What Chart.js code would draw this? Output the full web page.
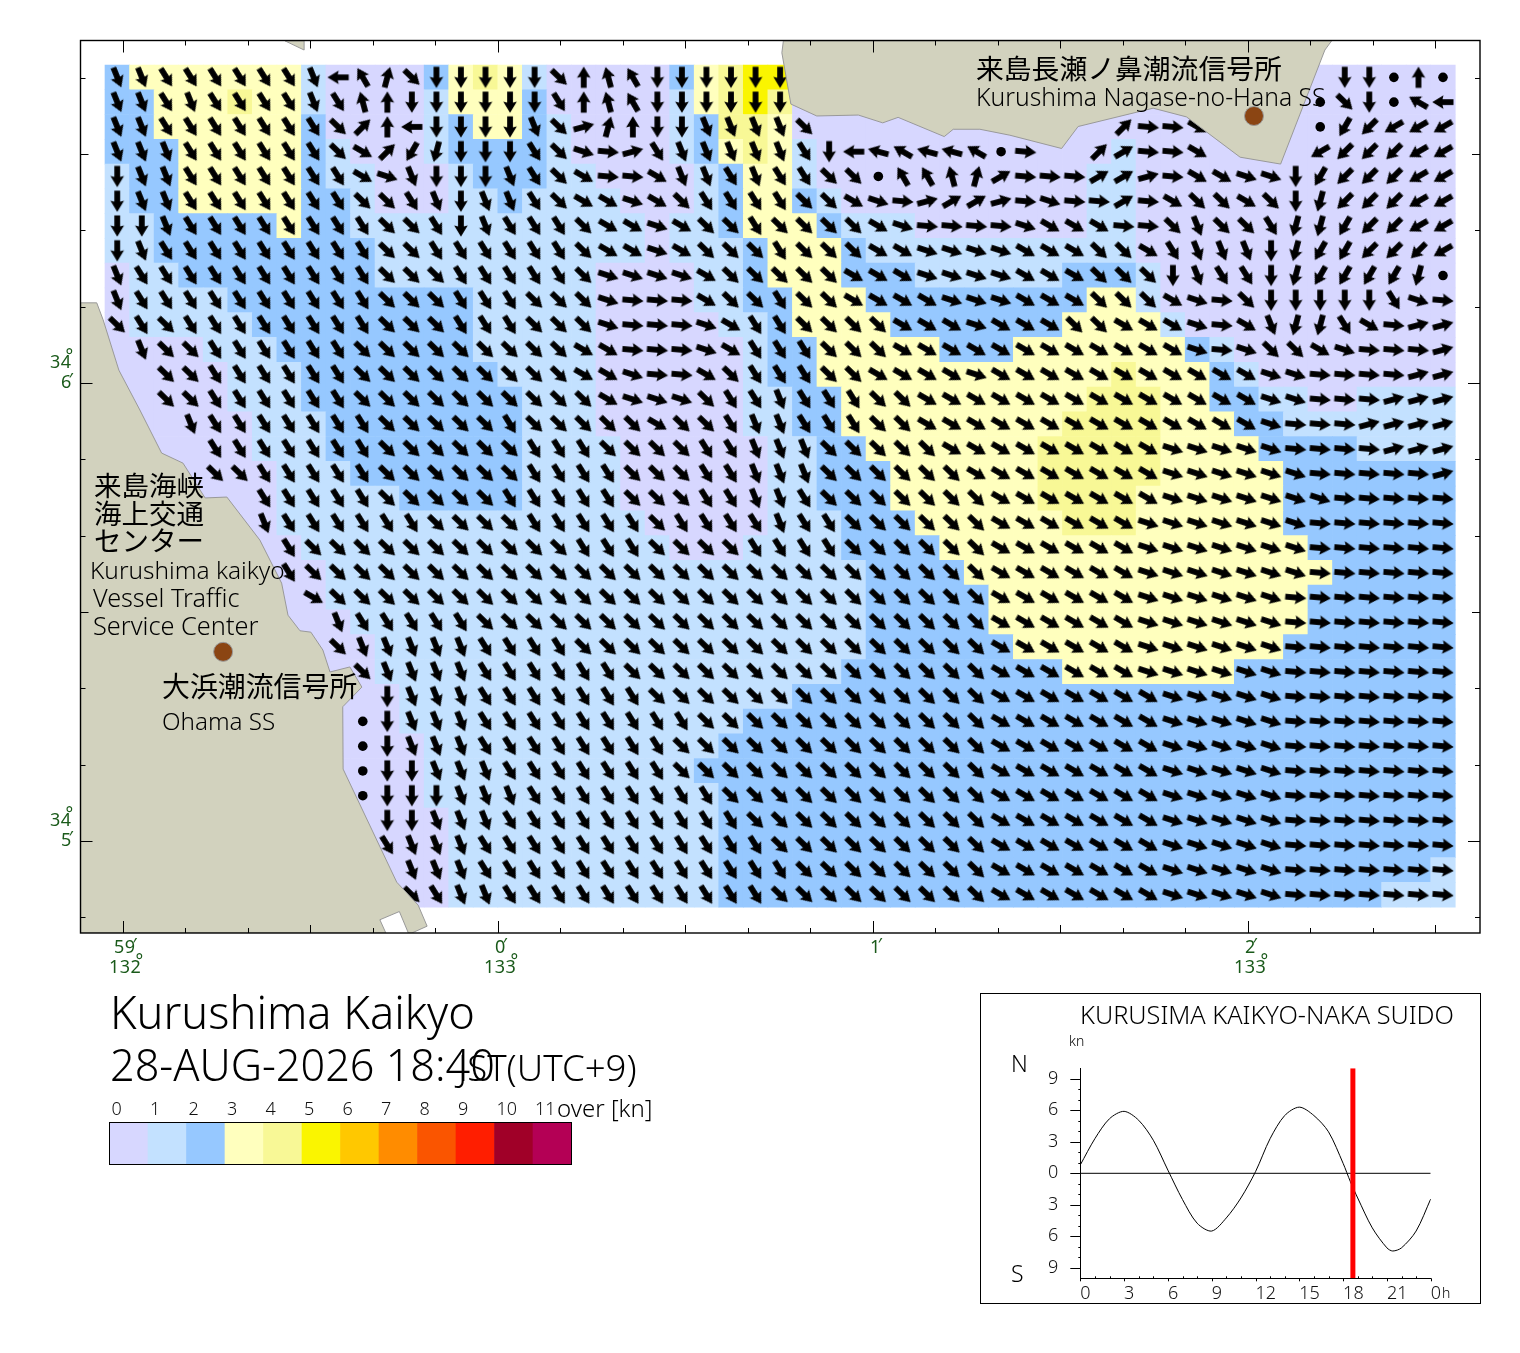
<!DOCTYPE html>
<html>
<head>
<meta charset="utf-8">
<title>Kurushima Kaikyo</title>
<script src="https://cdn.jsdelivr.net/npm/chart.js@4"></script>
<style>
html, body { margin: 0; padding: 0; background: #fff; }
body { position: relative; width: 1520px; height: 1353px; overflow: hidden; font-family: "Noto Sans", sans-serif; font-weight: 300; color: #000; }
canvas { position: absolute; display: block; }
.t { position: absolute; white-space: nowrap; line-height: 1; }
.j { font-family: "Noto Sans CJK JP", sans-serif; font-weight: 400; }
.g { color: #1a5a1a; font-size: 18px; font-weight: 400; letter-spacing: 0.5px; }
.g span { position: relative; top: -6px; margin-left: -6px; }
#tideBox { position: absolute; left: 980px; top: 993px; width: 499px; height: 309px; border: 1px solid #000; }
</style>
</head>
<body>
<canvas id="mapChart" style="left:0;top:0"></canvas>
<div id="tideBox"></div>
<canvas id="tideChart" style="left:981px;top:994px"></canvas>
<canvas id="legendChart" style="left:100px;top:1095px"></canvas>

<div class="t j" style="left:976px;top:54px;font-size:27.8px">来島長瀬ノ鼻潮流信号所</div>
<div class="t" style="left:976px;top:85px;font-size:24.7px">Kurushima Nagase-no-Hana SS</div>
<div class="t j" style="left:94px;top:471px;font-size:27.5px">来島海峡</div>
<div class="t j" style="left:94px;top:499px;font-size:27.5px">海上交通</div>
<div class="t j" style="left:94px;top:526px;font-size:27.5px">センター</div>
<div class="t" style="left:90px;top:558px;font-size:24.4px">Kurushima kaikyo</div>
<div class="t" style="left:93px;top:585px;font-size:25.2px">Vessel Traffic</div>
<div class="t" style="left:93px;top:613px;font-size:25.3px">Service Center</div>
<div class="t j" style="left:162px;top:672px;font-size:27.9px">大浜潮流信号所</div>
<div class="t" style="left:162px;top:709px;font-size:24.2px">Ohama SS</div>

<div class="t g" style="left:50px;top:352px">34<span>°</span></div>
<div class="t g" style="left:61px;top:372px">6<span style="margin-left:-3px;top:-2px">′</span></div>
<div class="t g" style="left:50px;top:810px">34<span>°</span></div>
<div class="t g" style="left:61px;top:830px">5<span style="margin-left:-3px;top:-2px">′</span></div>
<div class="t g" style="left:114px;top:937px">59<span style="margin-left:-3px;top:-2px">′</span></div>
<div class="t g" style="left:109px;top:957px">132<span>°</span></div>
<div class="t g" style="left:495px;top:937px">0<span style="margin-left:-3px;top:-2px">′</span></div>
<div class="t g" style="left:484px;top:957px">133<span>°</span></div>
<div class="t g" style="left:870px;top:937px">1<span style="margin-left:-3px;top:-2px">′</span></div>
<div class="t g" style="left:1245px;top:937px">2<span style="margin-left:-3px;top:-2px">′</span></div>
<div class="t g" style="left:1234px;top:957px">133<span>°</span></div>

<div class="t" style="left:110px;top:989px;font-size:45.2px">Kurushima Kaikyo</div>
<div class="t" style="left:110px;top:1043px;font-size:43.2px">28-AUG-2026 18:40</div>
<div class="t" style="left:458px;top:1049px;font-size:36.6px">JST(UTC+9)</div>
<div class="t" style="left:557px;top:1096px;font-size:24px">over [kn]</div>

<div class="t" style="left:1080px;top:1002px;font-size:25.3px">KURUSIMA KAIKYO-NAKA SUIDO</div>
<div class="t" style="left:1069px;top:1034px;font-size:14px">kn</div>
<div class="t" style="left:1011px;top:1052px;font-size:23px">N</div>
<div class="t" style="left:1011px;top:1262px;font-size:23px">S</div>
<div class="t" style="left:1442px;top:1286px;font-size:14px">h</div>

<script>
// current speed class per grid cell, rows north to south; each token is class + repeat count
const speedRows = [
    "2 37 1 04 2 3 4 3 1 05 2 3 4 5 5 027",
    "22 33 4 32 1 04 1 33 2 05 1 3 4 5 4 027",
    "22 36 2 04 1 2 32 2 1 04 1 2 42 3 027",
    "23 35 2 1 03 1 24 1 04 1 2 3 4 3 1 012 1 013",
    "1 22 35 2 12 03 1 23 12 04 1 2 32 1 011 12 013",
    "1 22 35 22 1 03 12 2 14 03 1 2 32 2 1 010 12 013",
    "12 25 3 22 112 0 12 2 33 2 13 07 12 013",
    "12 29 111 0 13 2 33 2 111 013",
    "0 12 28 19 04 12 2 33 23 16 23 1 012",
    "0 14 210 15 04 12 22 33 29 32 1 012",
    "0 15 29 15 05 12 2 34 27 34 1 011",
    "04 13 28 15 06 1 22 35 23 37 2 1 09",
    "05 13 28 14 06 1 22 312 4 33 2 1 08",
    "05 13 29 13 06 12 22 310 43 32 22 12 02 14",
    "06 13 28 13 06 12 22 39 44 33 22 17",
    "06 13 28 14 06 12 22 37 45 34 24 14",
    "07 13 27 14 06 12 23 36 45 35 27",
    "07 15 25 14 06 12 23 36 44 36 27",
    "07 115 05 13 23 36 43 36 27",
    "08 115 03 14 24 315 26",
    "09 122 24 315 25",
    "09 122 25 313 26",
    "010 121 25 313 26",
    "011 120 26 311 27",
    "011 119 29 37 29",
    "012 116 227",
    "012 114 229",
    "013 112 230",
    "013 111 231",
    "013 112 230",
    "014 111 230",
    "014 111 230",
    "014 111 229 1",
    "014 111 227 13"
];

// current direction per grid cell, codes looked up in directionAngles; 0=calm, .=no data
const directionRows = [
    "l2 k6 l s w b j m5 j a x w m6 .22 m2 0 a 0",
    "l2 k l k4 l k x a m6 k a x w m6 .21 0 j m 0 u s",
    "l2 k7 j d a s m4 l j f b a m2 l4 j .12 d g2 i .4 0 o p q3",
    "l3 k6 j i d o n m3 k j h g f k l5 k m s t u t2 u 0 g .2 d e g2 i .4 q p3 q2",
    "m l2 k7 i h l m3 l k j i g2 i l2 k l k2 j2 0 w2 x b e g3 e2 f g i2 h2 m o p3 q2",
    "m l2 k7 j2 k l m l2 k j i2 h i j k4 j2 i h g f e2 f g h g2 e g i j2 i j m n p3 q2",
    "m2 l k8 j2 k m l k3 j i2 h i j2 k j4 i h g4 h i3 g2 j l j2 k n2 o p2 q2",
    "m l k9 j2 k6 j i2 h i j3 k j3 i2 h4 i3 j2 i k l3 m n o2 p3 q",
    "l k10 j3 k5 j h4 i j5 i3 h4 i3 j3 m l k2 m n o4 n 0",
    "l k10 j3 k3 j3 h g3 i j2 k j2 i4 h3 i3 j3 i h g j m5 k h g",
    "j k j k8 j3 k3 j3 h g3 h i k2 j4 i3 h i3 j2 i3 h g i l n2 k i g f2",
    ". l j2 k6 j9 i2 g3 h i k3 j3 i12 h g h j2 i h g3 f",
    ".2 j2 k6 j9 i2 h g2 i j k3 j2 i4 h i11 h2 g4 f2",
    ".2 j2 k6 j10 i h3 j k2 l k3 j2 i14 h2 g3 f3",
    ".3 l k7 j5 k j5 i j2 k l2 k3 j2 i14 h g3 f4",
    ".4 k7 j6 k3 j4 k2 l3 j5 i9 h5 g4 f3",
    ".4 j2 k5 j6 k4 j3 k2 l3 j6 i8 h6 g5 f",
    ".6 k5 j5 k5 j3 k2 l2 k j7 i7 h7 g5",
    ".6 l k6 j4 k5 j k4 l k2 j6 i6 h7 g6",
    ".7 k j11 k3 j4 k4 j6 i6 h7 g6",
    ".7 k j28 i6 h7 g6",
    ".8 i j27 i6 h6 g7",
    ".9 l k5 j21 i6 h6 g7",
    ".9 j l5 k4 j17 i6 h6 g7",
    ".10 j l4 k6 j15 i6 h6 g7",
    ".11 m l3 k7 j14 i7 h5 g7",
    ".10 0 m l3 k9 j12 i7 h5 g7",
    ".10 0 m l3 k8 j13 i7 h5 g7",
    ".10 0 m2 l3 k7 j13 i7 h5 g7",
    ".10 0 m3 l3 k8 j11 i7 h5 g7",
    ".11 m2 l3 k10 j10 i7 h5 g7",
    ".11 k l3 k12 j9 i7 h5 g7",
    ".12 l3 k13 j8 i7 h5 g7",
    ".12 j k l2 k11 j9 i7 h5 g7"
];
const directionCodes = "abcdefghijklmnopqrstuvwx";
const directionAngles = [0, 15, 30, 45, 60, 75, 95, 108, 120, 134, 148, 158, 180, 195, 210, 225, 240, 255, 270, 285, 300, 315, 330, 345];

// coast outlines, minutes from 133deg 0' east and 34deg 5' north
const westLandLon = [-1.113, -1.070, -1.053, -1.011, -0.955, -0.897, -0.840, -0.781, -0.723, -0.635, -0.577, -0.560, -0.528, -0.499, -0.467, -0.448, -0.395, -0.363, -0.414, -0.413, -0.270, -0.213, -0.189, -0.230, -0.239, -0.263, -0.315, -0.299, -1.113];
const westLandLat = [1.175, 1.175, 1.138, 1.028, 0.941, 0.847, 0.825, 0.749, 0.751, 0.657, 0.563, 0.493, 0.459, 0.456, 0.417, 0.369, 0.380, 0.336, 0.293, 0.157, -0.090, -0.140, -0.186, -0.201, -0.201, -0.154, -0.172, -0.201, -0.201];
const northLandLon = [0.761, 0.757, 0.781, 0.850, 0.961, 1.026, 1.067, 1.190, 1.214, 1.285, 1.365, 1.503, 1.547, 1.747, 1.836, 1.979, 2.087, 2.205, 2.223];
const northLandLat = [1.747, 1.721, 1.609, 1.583, 1.585, 1.568, 1.580, 1.538, 1.554, 1.554, 1.541, 1.512, 1.560, 1.600, 1.581, 1.493, 1.478, 1.727, 1.747];
const isletLon = [-0.568, -0.517, -0.517];
const isletLat = [1.747, 1.727, 1.747];
const stationLon = [2.016, -0.733];
const stationLat = [1.583, 0.413];

const speedLevels = [0, 1, 2, 3, 4, 5, 6, 7, 8, 9, 10, 11];
const speedColors = ["#D7D7FF", "#C3E1FF", "#96C8FF", "#FFFFBE", "#F8F896", "#FAF500", "#FFC800", "#FF8C00", "#FA5500", "#FF1E00", "#A00028", "#B40055"];

const tideHours = [0, 1, 2, 3, 4, 5, 6, 7, 8, 9, 10, 11, 12, 13, 14, 15, 16, 17, 18, 18.5, 19, 20, 21, 21.4, 22, 23, 24];
const tideKnots = [0.8, 3.3, 5.2, 5.9, 5.05, 3.15, 0.3, -2.5, -4.75, -5.5, -4.25, -2.35, 0.15, 3.3, 5.5, 6.3, 5.5, 3.95, 0.95, -0.8, -2.35, -5.2, -7.1, -7.4, -7.1, -5.5, -2.45];
const tideHourTicks = [0, 3, 6, 9, 12, 15, 18, 21, 24];
const tideKnotTicks = [9, 6, 3, 0, -3, -6, -9];
const nowHour = 18.67;

const gridLon0 = -1.0152, gridLat0 = 1.6673, gridStepLon = 0.065467, gridStepLat = 0.054083;

function expandRuns(row) {
    const out = [];
    row.split(" ").forEach(tok => {
        const n = tok.length > 1 ? parseInt(tok.slice(1)) : 1;
        for (let i = 0; i < n; i++) out.push(tok[0]);
    });
    return out;
}

function makeArrow() {
    const c = document.createElement("canvas");
    c.width = 30;
    c.height = 30;
    const g = c.getContext("2d");
    g.translate(15, 15);
    g.fillStyle = "#000";
    g.beginPath();
    g.moveTo(0, -10.8);
    g.lineTo(6.8, 0.4);
    g.lineTo(2.9, -0.6);
    g.lineTo(2.9, 10.5);
    g.lineTo(-2.9, 10.5);
    g.lineTo(-2.9, -0.6);
    g.lineTo(-6.8, 0.4);
    g.closePath();
    g.fill();
    return c;
}

const cellData = [], cellColors = [];
speedRows.forEach((row, r) => {
    const lat = gridLat0 - r * gridStepLat;
    expandRuns(row).forEach((v, c) => {
        cellData.push({ x: gridLon0 + c * gridStepLon, y: [lat - gridStepLat / 2, lat + gridStepLat / 2] });
        cellColors.push(speedColors[+v]);
    });
});

const arrowImage = makeArrow();
const arrowData = [], arrowAngles = [], arrowStyles = [];
directionRows.forEach((row, r) => {
    expandRuns(row).forEach((d, c) => {
        if (d === ".") return;
        arrowData.push({ x: gridLon0 + c * gridStepLon, y: gridLat0 - r * gridStepLat });
        arrowAngles.push(d === "0" ? 0 : directionAngles[directionCodes.indexOf(d)]);
        arrowStyles.push(d === "0" ? "circle" : arrowImage);
    });
});

function tracePolygon(ctx, chart, lons, lats) {
    ctx.beginPath();
    lons.forEach((lon, i) => {
        const px = chart.scales.x.getPixelForValue(lon);
        const py = chart.scales.y.getPixelForValue(lats[i]);
        if (i === 0) ctx.moveTo(px, py); else ctx.lineTo(px, py);
    });
    ctx.closePath();
    ctx.fillStyle = "#D2D2BE";
    ctx.strokeStyle = "#999";
    ctx.lineWidth = 1;
    ctx.fill();
    ctx.stroke();
}

const mapLayers = {
    id: "mapLayers",
    afterDatasetDraw(chart, args) {
        if (args.index !== 1) return;   // land goes right above the arrows
        const ctx = chart.ctx, a = chart.chartArea;
        ctx.save();
        ctx.beginPath();
        ctx.rect(a.left, a.top, a.right - a.left, a.bottom - a.top);
        ctx.clip();
        tracePolygon(ctx, chart, westLandLon, westLandLat);
        tracePolygon(ctx, chart, northLandLon, northLandLat);
        tracePolygon(ctx, chart, isletLon, isletLat);
        ctx.restore();
    },
    afterDraw(chart) {
        const ctx = chart.ctx, a = chart.chartArea;
        ctx.save();
        ctx.strokeStyle = "#000";
        ctx.lineWidth = 1;
        ctx.beginPath();
        for (let i = -6; i <= 15; i++) {
            const px = Math.round(chart.scales.x.getPixelForValue(i / 6)) + 0.5;
            const len = i % 6 === 0 ? 12 : (i % 3 === 0 ? 8 : 5);
            ctx.moveTo(px, a.top); ctx.lineTo(px, a.top + len);
            ctx.moveTo(px, a.bottom); ctx.lineTo(px, a.bottom - len);
        }
        for (let i = -1; i <= 10; i++) {
            const py = Math.round(chart.scales.y.getPixelForValue(i / 6)) + 0.5;
            const len = i % 6 === 0 ? 12 : (i % 3 === 0 ? 8 : 5);
            ctx.moveTo(a.left, py); ctx.lineTo(a.left + len, py);
            ctx.moveTo(a.right, py); ctx.lineTo(a.right - len, py);
        }
        ctx.stroke();
        ctx.lineWidth = 1.4;
        ctx.strokeRect(a.left, a.top, a.right - a.left, a.bottom - a.top);
        ctx.restore();
    }
};

function sizeCanvas(id, w, h) {
    const c = document.getElementById(id);
    c.width = w;
    c.height = h;
    c.style.width = w + "px";
    c.style.height = h + "px";
    return c;
}

new Chart(sizeCanvas("mapChart", 1520, 985), {
    type: "scatter",
    plugins: [mapLayers],
    data: {
        datasets: [
            {
                label: "stations",
                data: stationLon.map((lon, i) => ({ x: lon, y: stationLat[i] })),
                pointStyle: "circle",
                pointRadius: 9.5,
                backgroundColor: "#8B4513",
                borderColor: "#999",
                borderWidth: 1
            },
            {
                label: "direction",
                data: arrowData,
                pointStyle: arrowStyles,
                rotation: arrowAngles,
                pointRadius: 4.8,
                backgroundColor: "#000",
                borderWidth: 0
            },
            {
                type: "bar",
                label: "speed",
                data: cellData,
                backgroundColor: cellColors,
                barThickness: 24.55,
                borderWidth: 0
            }
        ]
    },
    options: {
        responsive: false,
        animation: false,
        events: [],
        layout: { padding: { left: 80.5, top: 40.5, right: 40, bottom: 52 } },
        plugins: { legend: { display: false }, tooltip: { enabled: false } },
        scales: {
            x: { type: "linear", display: false, offset: false, min: -1.1133, max: 2.6187 },
            y: { type: "linear", display: false, min: -0.2009, max: 1.7478 }
        }
    }
});

const tickFont = { family: "'Noto Sans', sans-serif", size: 18, weight: "300" };

const tideTicks = {
    id: "tideTicks",
    afterDraw(chart) {
        const ctx = chart.ctx, a = chart.chartArea;
        ctx.save();
        ctx.strokeStyle = "#000";
        ctx.lineWidth = 1;
        ctx.beginPath();
        for (let h = 0; h <= 24; h++) {
            const px = Math.round(chart.scales.x.getPixelForValue(h)) + 0.5;
            ctx.moveTo(px, a.bottom);
            ctx.lineTo(px, a.bottom + (h % 3 === 0 ? 3 : -2));
        }
        for (let v = -9; v <= 9; v++) {
            const py = Math.round(chart.scales.y.getPixelForValue(v)) + 0.5;
            ctx.moveTo(a.left, py);
            ctx.lineTo(a.left - (v % 3 === 0 ? 10 : 2), py);
        }
        ctx.stroke();
        ctx.restore();
    }
};

new Chart(sizeCanvas("tideChart", 498, 309), {
    type: "line",
    plugins: [tideTicks],
    data: {
        datasets: [
            {
                label: "now",
                data: [{ x: nowHour, y: -10 }, { x: nowHour, y: 10 }],
                borderColor: "#FF0000",
                borderWidth: 5,
                pointRadius: 0
            },
            {
                label: "tide",
                data: tideHours.map((h, i) => ({ x: h, y: tideKnots[i] })),
                borderColor: "#000",
                borderWidth: 1,
                pointRadius: 0,
                tension: 0.3
            },
            {
                label: "zero",
                data: [{ x: 0, y: 0 }, { x: 24, y: 0 }],
                borderColor: "#000",
                borderWidth: 1,
                pointRadius: 0
            }
        ]
    },
    options: {
        responsive: false,
        animation: false,
        events: [],
        layout: { padding: { left: 0, top: 74.3, right: 48.3, bottom: 0 } },
        plugins: { legend: { display: false }, tooltip: { enabled: false } },
        scales: {
            x: {
                type: "linear",
                min: 0,
                max: 24,
                afterBuildTicks: s => { s.ticks = tideHourTicks.map(v => ({ value: v })); },
                afterFit: s => { s.height = 24.7; s.paddingLeft = 0; s.paddingRight = 0; },
                grid: { display: false, drawTicks: false },
                border: { color: "#000" },
                ticks: {
                    autoSkip: false,
                    maxRotation: 0,
                    align: "start",
                    padding: 5,
                    font: tickFont,
                    color: "#111",
                    callback: v => v === 24 ? "0" : String(v)
                }
            },
            y: {
                type: "linear",
                min: -10,
                max: 10,
                afterBuildTicks: s => { s.ticks = tideKnotTicks.map(v => ({ value: v })); },
                afterFit: s => { s.width = 99.3; s.paddingTop = 0; s.paddingBottom = 0; },
                grid: { display: false, drawTicks: false },
                border: { color: "#000" },
                ticks: {
                    autoSkip: false,
                    padding: 22,
                    font: tickFont,
                    color: "#111",
                    callback: v => String(Math.abs(v))
                }
            }
        }
    }
});

const legendFrame = {
    id: "legendFrame",
    afterDraw(chart) {
        const a = chart.chartArea;
        chart.ctx.save();
        chart.ctx.strokeStyle = "#000";
        chart.ctx.lineWidth = 1;
        chart.ctx.strokeRect(a.left, a.top, a.right - a.left, a.bottom - a.top);
        chart.ctx.restore();
    }
};

new Chart(sizeCanvas("legendChart", 490, 75), {
    type: "bar",
    plugins: [legendFrame],
    data: {
        datasets: [{
            data: speedLevels.map(v => ({ x: v + 0.5, y: 1 })),
            backgroundColor: speedColors,
            barThickness: 38.5,
            borderWidth: 0
        }]
    },
    options: {
        responsive: false,
        animation: false,
        events: [],
        layout: { padding: { left: 9.5, top: 0, right: 18.5, bottom: 5.5 } },
        plugins: { legend: { display: false }, tooltip: { enabled: false } },
        scales: {
            x: {
                type: "linear",
                position: "top",
                offset: false,
                min: 0,
                max: 12,
                afterBuildTicks: s => { s.ticks = speedLevels.map(v => ({ value: v })); },
                afterFit: s => { s.height = 27.5; },
                grid: { display: false, drawTicks: false, offset: false },
                border: { display: false },
                ticks: { autoSkip: false, maxRotation: 0, align: "start", labelOffset: 2, padding: 2, color: "#111", font: tickFont }
            },
            y: { type: "linear", display: false, min: 0, max: 1 }
        }
    }
});
</script>
</body>
</html>
